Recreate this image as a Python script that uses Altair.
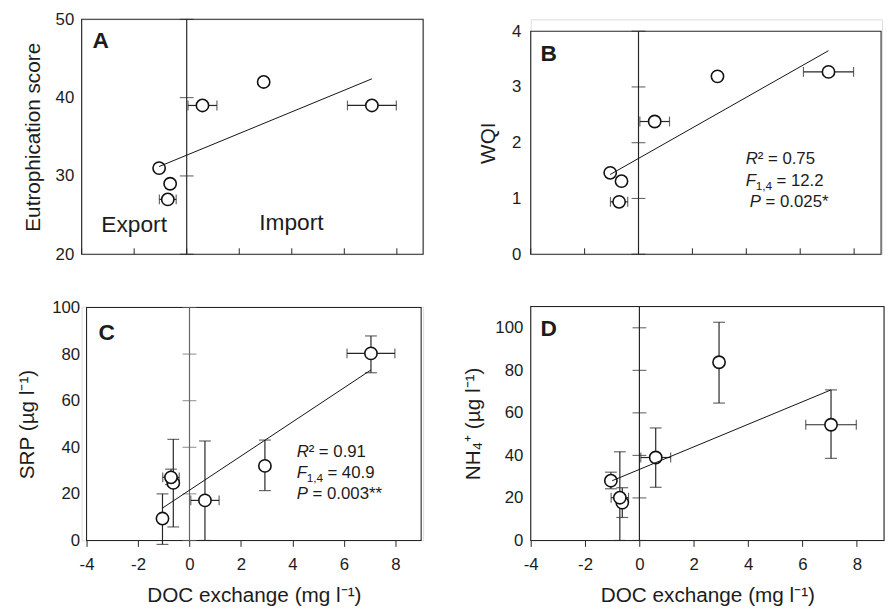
import altair as alt
import pandas as pd

FONT = "Liberation Sans"
INK = "#1c1c1c"

# ---- data ----
doc_x = [-1.05, -0.63, -0.72, 0.6, 2.93, 7.05]
doc_xerr = [0, 0, 0.32, 0.55, 0, 0.93]

eutro = [31, 29, 27, 39, 42, 39]
wqi = [1.46, 1.31, 0.94, 2.38, 3.19, 3.27]

srp = [9.4, 24.7, 27.1, 17.2, 32.0, 80.3]
srp_lo = [-1.7, 5.8, 24.0, 0.0, 21.4, 72.0]
srp_hi = [20.0, 43.4, 30.6, 42.7, 43.1, 87.8]

nh4 = [28.1, 17.8, 20.1, 39.0, 83.8, 54.4]
nh4_lo = [24.3, 10.8, 0.0, 25.0, 64.6, 38.6]
nh4_hi = [32.1, 24.8, 41.7, 52.9, 102.6, 70.8]

fit_x = [-1.05, 7.05]
fit_eutro = [31.2, 42.4]
fit_wqi = [1.43, 3.65]
fit_srp = [13.9, 73.2]
fit_nh4_x = [-1.0, 7.05]
fit_nh4 = [28.1, 70.8]

x_ticks = [-4, -2, 0, 2, 4, 6, 8]
ticks_eutro = [20, 30, 40, 50]
ticks_wqi = [0, 1, 2, 3, 4]
ticks_ug = [0, 20, 40, 60, 80, 100]

X_TITLE = "DOC exchange (mg l\u207b\u00b9)"
LINE = "#262626"


def txt(s, x, y, size, weight="normal", style="normal", align="left"):
    return alt.Chart(pd.DataFrame({"t": [s]})).mark_text(
        align=align, baseline="alphabetic", font=FONT, fontSize=size,
        fontWeight=weight, fontStyle=style, color=INK
    ).encode(x=alt.value(x), y=alt.value(y), text="t:N")


def panel(yvals, ylo, yhi, fxs, fys, ydom, yticks, ytitle, letter, lpos,
          w, h, xrange, yrange, bottom, label_pad, title_pad, extra, zero_col=LINE):
    xs = alt.Scale(domain=[-4, 9], nice=False, zero=False, range=xrange)
    ys = alt.Scale(domain=ydom, nice=False, zero=False, range=yrange)
    if bottom:
        xaxis = alt.Axis(values=x_ticks, tickSize=6, tickWidth=1, tickColor=LINE,
                         domain=False, grid=False, labelPadding=10, labelFlush=False,
                         labelExpr="'' + datum.value",
                         labelFontSize=17, labelColor=INK, labelFont=FONT,
                         title=X_TITLE, titleFontSize=21, titleFontWeight="normal",
                         titleFont=FONT, titlePadding=13, titleColor=INK)
    else:
        xaxis = alt.Axis(labels=False, ticks=False, domain=False, grid=False, title=None)
    yaxis = alt.Axis(values=yticks, ticks=False, tickSize=0, domain=False, grid=False,
                     labelPadding=label_pad, labelFontSize=17, labelColor=INK,
                     labelFont=FONT, labelFlush=False,
                     title=ytitle, titleFontSize=21, titleFontWeight="normal",
                     titleFont=FONT, titlePadding=title_pad, titleColor=INK)
    X = alt.X("x:Q", scale=xs, axis=xaxis)
    Y = alt.Y("y:Q", scale=ys, axis=yaxis)

    layers = []
    # frame of the plot area
    layers.append(alt.Chart(pd.DataFrame({"x": [-4], "x2": [9], "y": [ydom[0]], "y2": [ydom[1]]}))
                  .mark_rect(fill="white", fillOpacity=0, stroke=LINE, strokeWidth=1.1)
                  .encode(x=X, x2=alt.X2("x2:Q"), y=Y, y2=alt.Y2("y2:Q")))
    # zero line with crossing ticks
    layers.append(alt.Chart(pd.DataFrame({"x": [0], "y": [ydom[0]], "y2": [ydom[1]]})).mark_rule(
        color=zero_col, strokeWidth=1.2).encode(x=X, y=Y, y2=alt.Y2("y2:Q")))
    layers.append(alt.Chart(pd.DataFrame({"x": [0] * len(yticks), "y": yticks})).mark_tick(
        orient="horizontal", size=14, thickness=1.1, color=zero_col).encode(x=X, y=Y))
    if not bottom:
        layers.append(alt.Chart(pd.DataFrame({"x": x_ticks})).mark_rule(
            color=LINE, strokeWidth=1).encode(x=X, y=alt.value(h), y2=alt.value(h - 6)))

    # x error bars
    xe = [(doc_x[i] - doc_xerr[i], doc_x[i] + doc_xerr[i], yvals[i])
          for i in range(6) if doc_xerr[i] > 0]
    xe_df = pd.DataFrame({"x": [a for a, b, c in xe], "x2": [b for a, b, c in xe],
                          "y": [c for a, b, c in xe]})
    layers.append(alt.Chart(xe_df).mark_rule(color=LINE, strokeWidth=1.2).encode(
        x=X, x2=alt.X2("x2:Q"), y=Y))
    cap_df = pd.DataFrame({"x": [a for a, b, c in xe] + [b for a, b, c in xe],
                           "y": [c for a, b, c in xe] * 2})
    layers.append(alt.Chart(cap_df).mark_tick(orient="vertical", size=10, thickness=1.2,
                                               color=LINE).encode(x=X, y=Y))
    # y error bars
    if ylo is not None:
        ye_df = pd.DataFrame({"x": doc_x, "y": ylo, "y2": yhi})
        layers.append(alt.Chart(ye_df).mark_rule(color=LINE, strokeWidth=1.2).encode(
            x=X, y=Y, y2=alt.Y2("y2:Q")))
        ycap = pd.DataFrame({"x": doc_x + doc_x, "y": list(ylo) + list(yhi)})
        layers.append(alt.Chart(ycap).mark_tick(orient="horizontal", size=12, thickness=1.2,
                                                color=LINE).encode(x=X, y=Y))
    # points
    layers.append(alt.Chart(pd.DataFrame({"x": doc_x, "y": yvals})).mark_point(
        shape="circle", filled=True, fill="white", stroke="#111", strokeWidth=1.6,
        size=155, opacity=1).encode(x=X, y=Y))
    # regression line
    layers.append(alt.Chart(pd.DataFrame({"x": fxs, "y": fys})).mark_line(
        color="#111", strokeWidth=1).encode(x=X, y=Y))
    # panel letter
    layers.append(txt(letter, lpos[0], lpos[1], 23, weight="bold"))
    layers.extend(extra)
    return alt.layer(*layers).properties(width=w, height=h)


def stats(x0, b0, r2, f, p, pdx):
    return [
        txt("R", x0, b0, 17, style="italic"),
        txt("\u00b2 = " + r2, x0 + 12, b0, 17),
        txt("F", x0, b0 + 22, 17, style="italic"),
        txt("1,4", x0 + 10, b0 + 26, 12),
        txt("= " + f, x0 + 31, b0 + 22, 17),
        txt("P", x0 + pdx, b0 + 43, 17, style="italic"),
        txt("= " + p, x0 + pdx + 16, b0 + 43, 17),
    ]


A = panel(eutro, None, None, fit_x, fit_eutro, [20, 50], ticks_eutro,
          "Eutrophication score", "A", (11, 29), 346, 238, [0, 346], [238, 0],
          False, 8, 12,
          [txt("Export", 20, 215, 23), txt("Import", 180, 213, 23)])
B = panel(wqi, None, None, fit_x, fit_wqi, [0, 4], ticks_wqi,
          "WQI", "B", (10, 42), 356, 238, [0, 355], [238, 12],
          False, 10, 13,
          stats(218, 147, "0.75", "12.2", "0.025*", 4))
C = panel(srp, srp_lo, srp_hi, fit_x, fit_srp, [0, 100], ticks_ug,
          "SRP (\u00b5g l\u207b\u00b9)", "C", (17, 34), 346, 237, [5, 344], [237, 1],
          True, 2, 14,
          stats(218, 152, "0.91", "40.9", "0.003**", 0), zero_col="#666")
D = panel(nh4, nh4_lo, nh4_hi, fit_nh4_x, fit_nh4, [0, 110], ticks_ug,
          "NH\u2084\u207a (\u00b5g l\u207b\u00b9)", "D", (10, 30), 358, 237, [0, 358], [237, 0],
          True, 8, 12, [])

chart = alt.concat(A, B, C, D, columns=2, spacing={"row": 53, "column": 97},
                   bounds="flush", align="all").properties(
    padding={"left": 8.6, "top": -2.5, "right": 0, "bottom": 0}
).configure_view(strokeOpacity=0).configure(font=FONT)

chart.save("out.html", embed_options={"renderer": "svg", "actions": False})
